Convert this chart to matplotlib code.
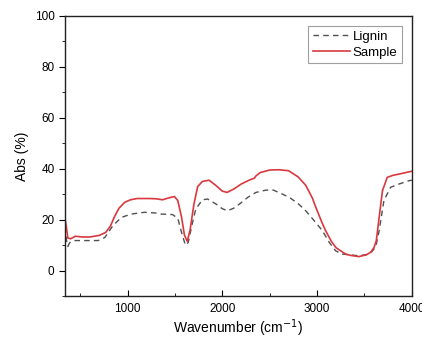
import matplotlib
matplotlib.use("Agg")
import matplotlib.pyplot as plt
from matplotlib.ticker import MultipleLocator

plt.rcParams["font.family"] = ["Liberation Sans", "DejaVu Sans"]

# FTIR spectra
sample_x = [340, 355, 370, 400, 450, 520, 600, 700, 770, 820, 860, 910, 970,
            1030, 1100, 1230, 1300, 1370, 1430, 1495, 1530, 1570, 1600, 1630,
            1660, 1700, 1740, 1790, 1860, 1930, 2000, 2050, 2120, 2200, 2300,
            2340, 2350, 2400, 2500, 2600, 2700, 2800, 2880, 2950, 2985, 3050,
            3090, 3150, 3200, 3300, 3350, 3440, 3520, 3565, 3600, 3625, 3655,
            3690, 3740, 3800, 3865, 3985, 4000]
sample_y = [20.5, 17, 12.8, 12.5, 13.5, 13.2, 13.2, 13.8, 15, 17.5, 21, 24.5, 26.8,
            27.8, 28.3, 28.3, 28.2, 27.8, 28.5, 29.1, 27.5, 21, 14, 11.5,
            16, 26, 33, 35, 35.5, 33.5, 31.2, 30.7, 32, 34, 35.8,
            36.3, 37, 38.5, 39.5, 39.6, 39.2, 36.8, 33.5, 28.5, 25, 19,
            15.7, 11.5, 9, 6.5, 6, 5.5, 6.2, 7.2, 9, 11.8, 21,
            31.4, 36.6, 37.4, 37.9, 38.9, 39]

lignin_x = [340, 355, 370, 390, 440, 510, 600, 690, 760, 845, 935, 1040, 1180,
            1300, 1355, 1475, 1530, 1570, 1610, 1640, 1680, 1720, 1790, 1845,
            1935, 2000, 2055, 2120, 2180, 2270, 2355, 2460, 2540, 2635, 2705,
            2800, 2880, 2960, 3055, 3130, 3195, 3260, 3350, 3440, 3520, 3580,
            3620, 3655, 3705, 3775, 3865, 3970, 4000]
lignin_y = [21, 12, 9.5, 11, 11.8, 11.8, 11.8, 11.8, 13, 17.6, 20.9, 22.2, 22.9,
            22.6, 22.2, 22, 20.5, 15, 10, 11, 18, 24.2, 27.8, 28.1,
            26.1, 24.3, 23.5, 24.5, 26.1, 28.8, 30.7, 31.6, 31.6, 30, 28.8,
            26.3, 23.5, 20, 15.7, 11, 7.8, 6.5, 6.2, 5.8, 6.3, 7.5,
            9.5, 15.7, 27.5, 32.7, 34, 35.3, 35.5]

fig = plt.figure(figsize=(4.22, 3.38), dpi=100)
ax = fig.add_axes([0.154, 0.124, 0.822, 0.829])

ax.plot(lignin_x, lignin_y, color="#505050", linestyle=(0, (4, 3)),
        linewidth=1.0, label="Lignin")
ax.plot(sample_x, sample_y, color="#d9393e", linewidth=1.2, label="Sample")

ax.set_xlim(340, 4000)
ax.set_ylim(-10, 100)
ax.xaxis.set_major_locator(MultipleLocator(1000))
ax.xaxis.set_minor_locator(MultipleLocator(500))
ax.yaxis.set_major_locator(MultipleLocator(20))
ax.yaxis.set_minor_locator(MultipleLocator(10))
ax.tick_params(axis="x", which="both", direction="in", labelsize=8.5, pad=5)
ax.tick_params(axis="x", which="major", length=4)
ax.tick_params(axis="x", which="minor", length=2.5)
ax.tick_params(axis="y", which="both", direction="out", labelsize=8.5)
ax.tick_params(axis="y", which="major", length=4)
ax.tick_params(axis="y", which="minor", length=2.5)
for s in ax.spines.values():
    s.set_linewidth(1.0)
    s.set_color("#222222")

ax.set_xlabel("Wavenumber (cm$^{-1}$)", fontsize=10, labelpad=2)
ax.set_ylabel("Abs (%)", fontsize=10, labelpad=4)

leg = ax.legend(loc="upper right", fontsize=9.5, frameon=True, fancybox=False,
                handlelength=2.8, handletextpad=0.2, borderpad=0.35,
                labelspacing=0.3, borderaxespad=0.75)
leg.get_frame().set_edgecolor("#888888")
leg.get_frame().set_linewidth(0.8)

fig.savefig("out.png", dpi=100)
